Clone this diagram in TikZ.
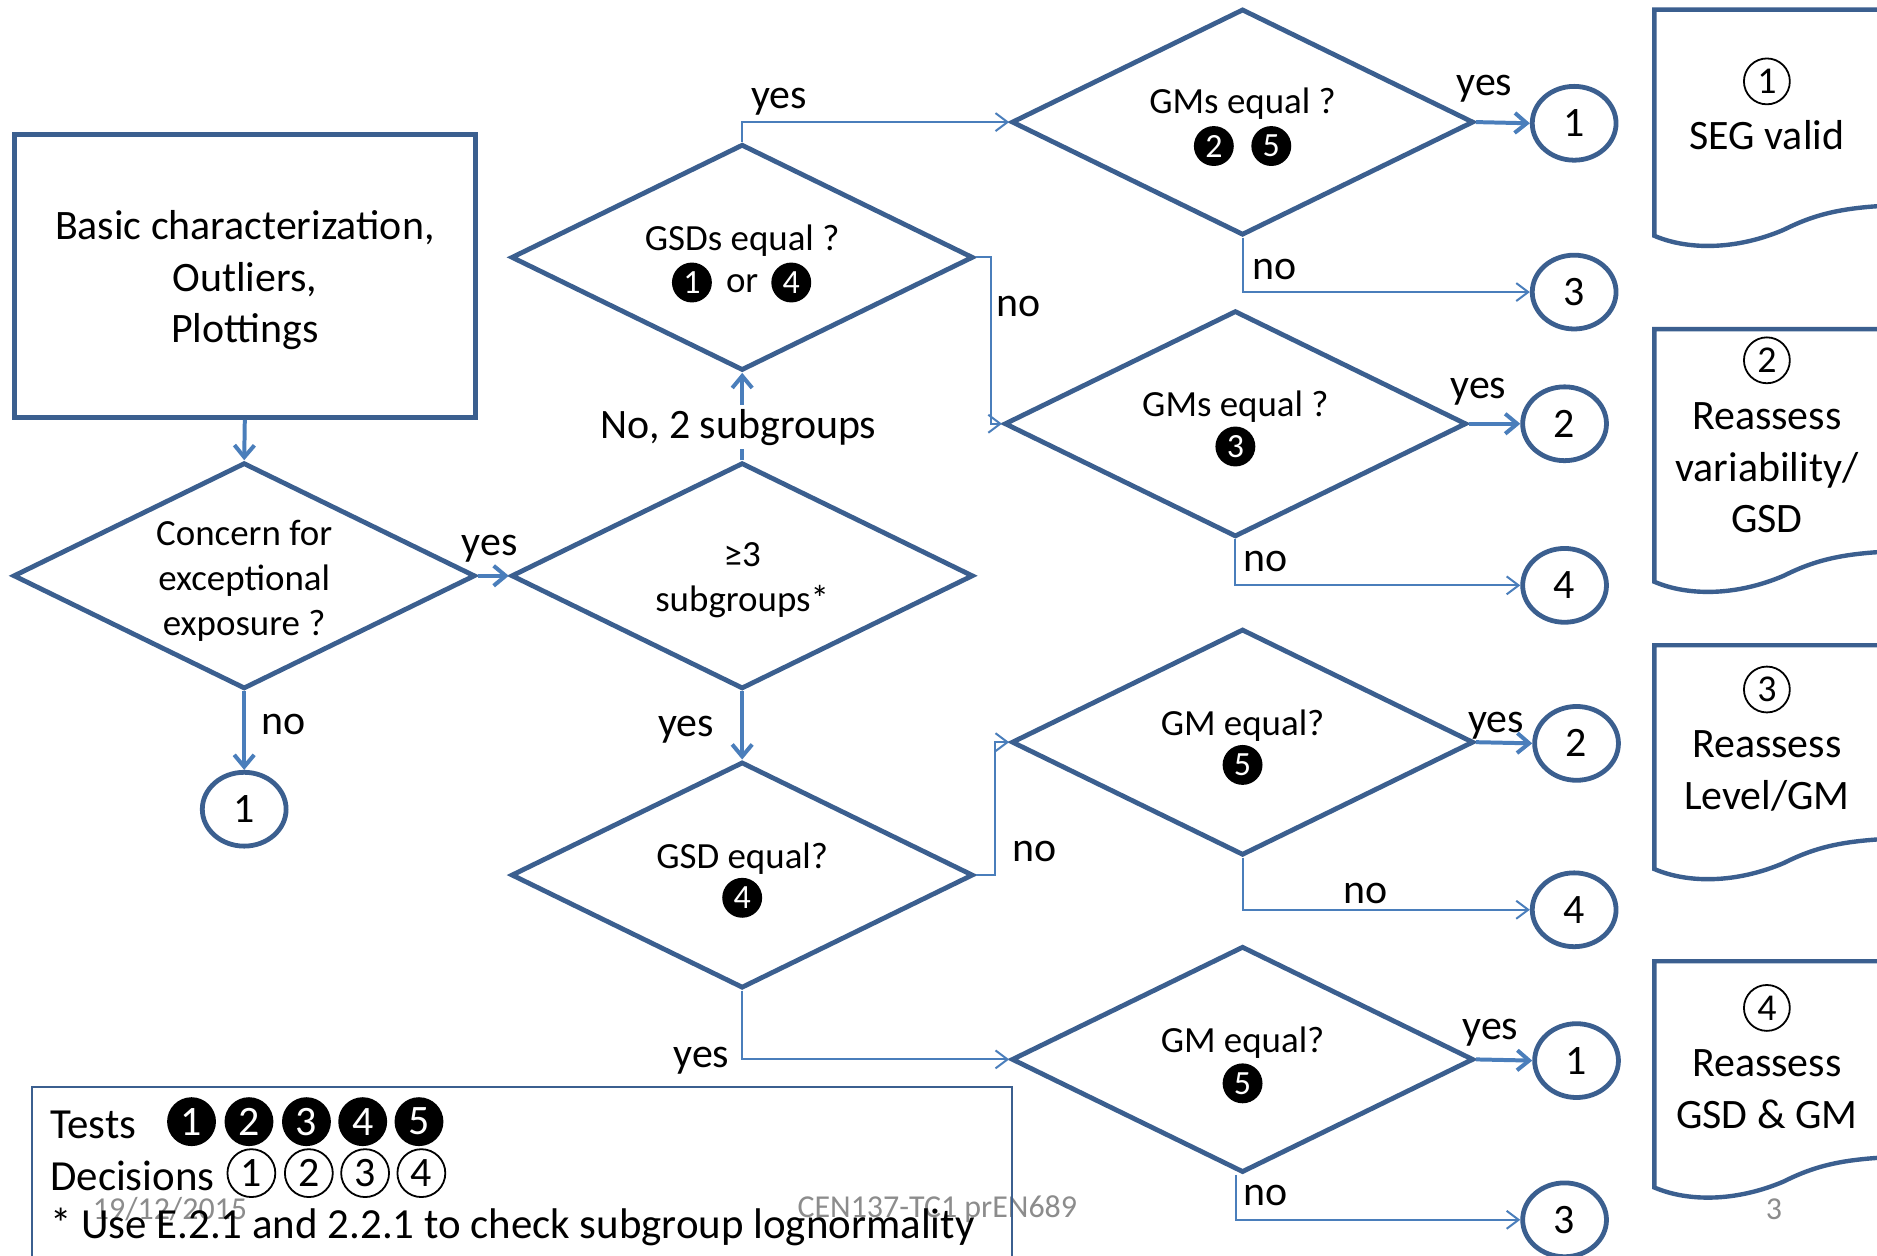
\documentclass[tikz,border=0pt]{standalone}
\usepackage{fontspec}
\setmainfont{Carlito}
\usetikzlibrary{shapes.geometric,arrows.meta}
\definecolor{dkb}{HTML}{3B5F8F}
\definecolor{lnb}{HTML}{4A7EBB}
\definecolor{ftg}{HTML}{8C8C8C}
\begin{document}
\begin{tikzpicture}[x=0.6pt,y=-0.6pt,
 dia/.style={diamond, draw=dkb, line width=2.4pt, minimum width=231.6pt, minimum height=113.4pt, inner sep=0pt},
 dtext/.style={align=center, font=\fontsize{18.5}{22.5}\selectfont, inner sep=0pt},
 term/.style={ellipse, draw=dkb, line width=2.4pt, minimum width=42pt, minimum height=37pt, inner sep=0pt, font=\fontsize{21}{25}\selectfont},
 lbl/.style={font=\fontsize{21}{25}\selectfont, inner sep=1pt},
 thinarr/.style={draw=lnb, line width=1pt, -{Straight Barb[length=6pt,width=9pt]}},
 thickarr/.style={draw=lnb, line width=2pt, -{Straight Barb[length=6pt,width=10pt]}},
 badge/.style={circle, fill=black, text=white, inner sep=0pt, minimum size=20pt, font=\fontsize{17}{17}\selectfont},
 lbadge/.style={circle, fill=black, text=white, inner sep=0pt, minimum size=24.5pt, font=\fontsize{21}{21}\selectfont},
 ldec/.style={circle, draw=black, line width=0.9pt, inner sep=0pt, minimum size=24pt, font=\fontsize{21}{21}\selectfont},
 dnum/.style={circle, draw=black, line width=0.9pt, inner sep=0pt, minimum size=23pt, font=\fontsize{19}{19}\selectfont},
 foot/.style={font=\fontsize{16}{18}\selectfont, text=ftg, inner sep=0pt},
 docshape/.style={draw=dkb, line width=2.2pt}
]
\useasboundingbox (0,0) rectangle (1568,1049);
\clip (0,0) rectangle (1568,1049);
\fill[white] (0,0) rectangle (1568,1049);

% footer (behind)
\node[foot] (f1) at (142,1010) {19/12/2015};
\node[foot] (f2) at (783,1010) {CEN137-TC1 prEN689};
\node[foot] (f3) at (1482,1010) {3};

% start box
\node[draw=dkb, line width=2.4pt, minimum width=231pt, minimum height=142pt, inner sep=0pt] (box) at (204.5,230.5) {};
\node[align=center, font=\fontsize{21}{25.8}\selectfont, inner sep=0pt] (boxt) at (204.5,234)
      {Basic characterization,\\Outliers,\\Plottings};

% diamonds
\node[dia] (d1) at (204,481) {};
\node[dia] (d2) at (620,481) {};
\node[dia] (d3) at (620,215) {};
\node[dia] (d4) at (1038,102) {};
\node[dia] (d5) at (1032,354) {};
\node[dia] (d6) at (620,731) {};
\node[dia] (d7) at (1038,620) {};
\node[dia] (d8) at (1038,885) {};

% diamond texts
\node[dtext] (t1) at (204,485) {Concern for\\exceptional\\exposure ?};
\node[dtext] (t2) at (620,485) {≥3\\subgroups*};
\node[dtext] (t3) at (620,201) {GSDs equal ?};
\node[badge] (b3a) at (578,236) {1};
\node[dtext] (t3o) at (620,237) {or};
\node[badge] (b3b) at (661,236) {4};
\node[dtext] (t4) at (1038,87) {GMs equal ?};
\node[badge] (b4a) at (1014,122) {2};
\node[badge] (b4b) at (1062,122) {5};
\node[dtext] (t5) at (1032,340) {GMs equal ?};
\node[badge] (b5) at (1032,373) {3};
\node[dtext] (t6) at (620,717) {GSD equal?};
\node[badge] (b6) at (620,750) {4};
\node[dtext] (t7) at (1038,606) {GM equal?};
\node[badge] (b7) at (1038,639) {5};
\node[dtext] (t8) at (1038,871) {GM equal?};
\node[badge] (b8) at (1038,905) {5};

% terminals
\node[term] (c1) at (204,676) {1};
\node[term] (c2) at (1315,103) {1};
\node[term] (c3) at (1315,244) {3};
\node[term] (c4) at (1307,354) {2};
\node[term] (c5) at (1307,489) {4};
\node[term] (c6) at (1317,621) {2};
\node[term] (c7) at (1315,760) {4};
\node[term] (c8) at (1317,886) {1};
\node[term] (c9) at (1307,1019) {3};

% connectors
\draw[thickarr] (box.south) -- (d1.north);
\draw[thickarr] (d1.south) -- (c1.north);
\draw[thickarr] (d1.east) -- (d2.west);
\draw[thickarr] (d2.north) -- (d3.south);
\draw[thinarr] (d3.north) |- (d4.west);
\draw[thinarr] (d3.east) -- ++(13,0) |- (d5.west);
\draw[thickarr] (d4.east) -- (c2.west);
\draw[thinarr] (d4.south) |- (c3.west);
\draw[thickarr] (d5.east) -- (c4.west);
\draw[thinarr] (d5.south) |- (c5.west);
\draw[thickarr] (d2.south) -- (d6.north);
\draw[thinarr] (d6.east) -- ++(16,0) |- (d7.west);
\draw[thickarr] (d7.east) -- (c6.west);
\draw[thinarr] (d7.south) |- (c7.west);
\draw[thinarr] (d6.south) |- (d8.west);
\draw[thickarr] (d8.east) -- (c8.west);
\draw[thinarr] ([xshift=-3.5pt]d8.south) |- (c9.west);

% edge labels
\node[lbl] (l1) at (237,605) {no};
\node[lbl] (l2) at (409,458) {yes};
\node[lbl, fill=white, inner sep=2pt] (l3) at (617,357) {No, 2 subgroups};
\node[lbl] (l4) at (651,85) {yes};
\node[lbl] (l5) at (851,256) {no};
\node[lbl] (l6) at (1240,74) {yes};
\node[lbl] (l7) at (1065,225) {no};
\node[lbl] (l8) at (1235,327) {yes};
\node[lbl] (l9) at (1057,469) {no};
\node[lbl] (l10) at (573,610) {yes};
\node[lbl] (l11) at (864,711) {no};
\node[lbl] (l12) at (1250,606) {yes};
\node[lbl] (l13) at (1141,746) {no};
\node[lbl] (l14) at (586,886) {yes};
\node[lbl] (l15) at (1245,863) {yes};
\node[lbl] (l16) at (1057,999) {no};

% document shapes
\foreach \t/\b in {8/197, 275/486, 539/726, 803/992}
  \draw[docshape] (1600,\t) -- (1382,\t) -- (1382,\b)
     .. controls (1410,\b+12) and (1450,\b+12) .. (1490,\b-5)
     .. controls (1520,\b-20) and (1545,\b-25) .. (1600,\b-26);

\node[dnum] (n1) at (1476,68) {1};
\node[lbl] (s1) at (1476,113) {SEG valid};
\node[dnum] (n2) at (1476,301) {2};
\node[lbl, align=center, font=\fontsize{21}{25.8}\selectfont] (s2) at (1476,391) {Reassess\\variability/\\GSD};
\node[dnum] (n3) at (1476,576) {3};
\node[lbl, align=center, font=\fontsize{21}{25.8}\selectfont] (s3) at (1476,644) {Reassess\\Level/GM};
\node[dnum] (n4) at (1476,842) {4};
\node[lbl, align=center, font=\fontsize{21}{25.8}\selectfont] (s4) at (1476,910) {Reassess\\GSD \& GM};

% legend
\draw[dkb, line width=1pt] (27,1060) -- (27,908) -- (845,908) -- (845,1060);
\node[lbl, anchor=west, font=\fontsize{21.5}{25}\selectfont] (lt) at (40,940) {Tests};
\foreach \i/\x in {1/160, 2/208, 3/256, 4/303, 5/350}
  \node[lbadge] (lb\i) at (\x,937) {\i};
\node[lbl, anchor=west, font=\fontsize{21.5}{25}\selectfont] (ld) at (40,982) {Decisions};
\foreach \i/\x in {1/210, 2/258, 3/305, 4/352}
  \node[ldec] (lc\i) at (\x,980) {\i};
\node[lbl, anchor=west, font=\fontsize{21.5}{25}\selectfont] (ln) at (40,1025) {* Use E.2.1 and 2.2.1 to check subgroup lognormality};
\end{tikzpicture}
\end{document}
